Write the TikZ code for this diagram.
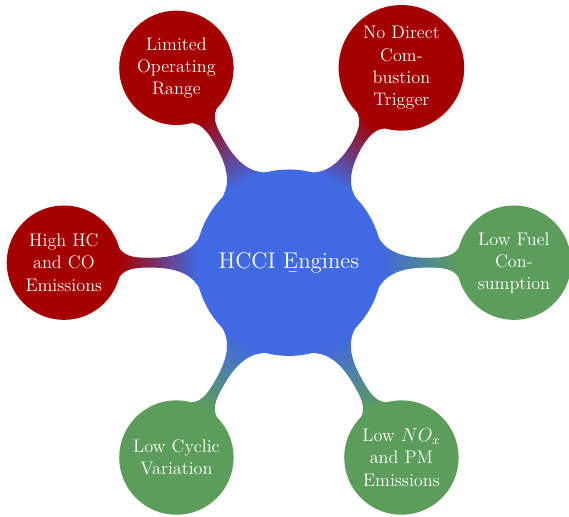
\documentclass[tikz,border=0pt]{standalone}
\usetikzlibrary{mindmap,calc,backgrounds}
\definecolor{rootblue}{RGB}{65,105,225}
\definecolor{conred}{RGB}{165,0,0}
\definecolor{progreen}{RGB}{92,157,92}
\begin{document}
\begin{tikzpicture}[mindmap,
  rootstyle/.style={concept, concept color=rootblue, minimum size=4.1cm, text width=3.5cm, inner sep=0pt, font=\Large, text=white},
  leafstyle/.style={concept, minimum size=2.5cm, text width=2.05cm, inner sep=0pt, font=\fontsize{11.5}{14}\selectfont, text=white, execute at begin node=\hskip0pt},
  conleaf/.style={leafstyle, concept color=conred},
  proleaf/.style={leafstyle, concept color=progreen}]
\useasboundingbox (0,0) rectangle (12.644,11.467);
\coordinate (c) at (6.42,5.63);
\node[rootstyle] (root) at (c) {HCCI \b{E}ngines};
\node[conleaf] (lor) at ($(c)+(120:5)$) {Limited Operating Range};
\node[conleaf] (ndt) at ($(c)+(60:5)$) {No Direct Combustion Trigger};
\node[proleaf] (lfc) at ($(c)+(0:5)$) {Low Fuel Consumption};
\node[proleaf] (lnox) at ($(c)+(-60:5)$) {Low $NO_x$ and PM Emissions};
\node[proleaf] (lcv) at ($(c)+(-120:5)$) {Low Cyclic Variation};
\node[conleaf] (hhc) at ($(c)+(180:5)$) {High HC and CO Emissions};
\begin{scope}[on background layer]
\path (root) to[circle connection bar switch color=from (rootblue) to (conred)] (lor);
\path (root) to[circle connection bar switch color=from (rootblue) to (conred)] (ndt);
\path (root) to[circle connection bar switch color=from (rootblue) to (progreen)] (lfc);
\path (root) to[circle connection bar switch color=from (rootblue) to (progreen)] (lnox);
\path (root) to[circle connection bar switch color=from (rootblue) to (progreen)] (lcv);
\path (root) to[circle connection bar switch color=from (rootblue) to (conred)] (hhc);
\end{scope}
\end{tikzpicture}
\end{document}
